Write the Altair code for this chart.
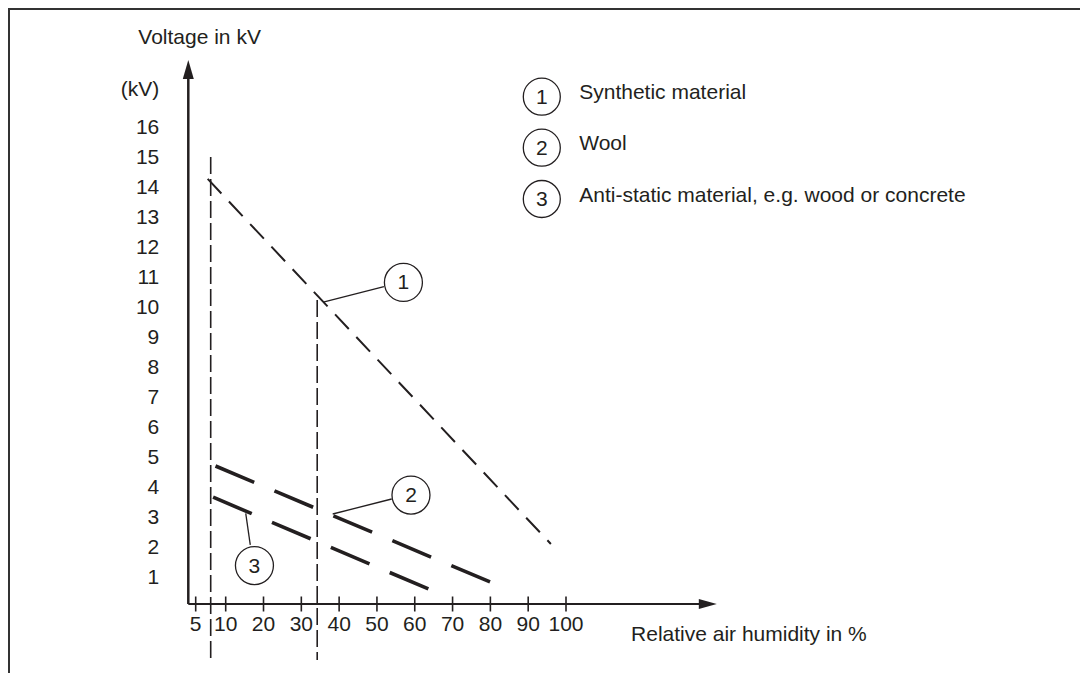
import altair as alt
import pandas as pd

# ---------------- data ----------------
humidity_ticks = [5, 10, 20, 30, 40, 50, 60, 70, 80, 90, 100]
voltage_ticks = list(range(1, 17))

series_ids = ["1", "2", "3"]
series_names = ["Synthetic material", "Wool", "Anti-static material, e.g. wood or concrete"]
start_humidity = [7.0, 8.3, 7.9]
start_kv = [14.17, 4.6, 3.56]
end_humidity = [96.0, 80.0, 64.0]
end_kv = [2.0, 0.73, 0.48]

marker_humidity = [7.5, 34.2]
marker_top_kv = [14.9, 10.13]
marker_bottom_kv = [-1.87, -1.87]

callout_humidity = [57.0, 59.0, 17.6]
callout_kv = [10.72, 3.63, 1.28]
leader_from_humidity = [51.85, 53.9, 16.5]
leader_from_kv = [10.58, 3.5, 1.97]
leader_to_humidity = [35.8, 38.3, 15.3]
leader_to_kv = [10.06, 3.0, 3.02]

legend_circle_humidity = [93.6, 93.6, 93.6]
legend_circle_kv = [16.91, 15.21, 13.5]
legend_text_humidity = [103.5, 103.5, 103.5]
legend_text_kv = [17.02, 15.32, 13.61]

# ---------------- styling ----------------
INK = "#231f20"
FONT = "Liberation Sans"
FS = 21

xs = alt.Scale(domain=[0, 5, 10, 100], range=[180.3, 187.7, 217.7, 558])
ys = alt.Scale(domain=[0, 16], range=[596, 116])


def X(f):
    return alt.X(f, type="quantitative", scale=xs, axis=None)


def Y(f):
    return alt.Y(f, type="quantitative", scale=ys, axis=None)


layers = []

# frame (left and top edges)
frame_df = pd.DataFrame({"a": [0]})
layers.append(alt.Chart(frame_df).mark_rule(color="#333", strokeWidth=2).encode(
    x=alt.value(1), y=alt.value(0), y2=alt.value(665)))
layers.append(alt.Chart(frame_df).mark_rule(color="#333", strokeWidth=2).encode(
    x=alt.value(0), x2=alt.value(1072), y=alt.value(1)))

# axes lines
axis_df = pd.DataFrame({"h0": [0], "h1": [136], "v0": [0], "v1": [17.5],
                        "harrow": [137.5], "varrow": [17.82]})
layers.append(alt.Chart(axis_df).mark_rule(color=INK, strokeWidth=2).encode(
    x=X("h0"), x2="h1", y=Y("v0")))
layers.append(alt.Chart(axis_df).mark_rule(color=INK, strokeWidth=2.5).encode(
    x=X("h0"), y=Y("v0"), y2="v1"))
layers.append(alt.Chart(axis_df).mark_point(
    shape="M-1,-0.55L1,0L-1,0.55Z", filled=True, color=INK, opacity=1, size=324).encode(
    x=X("harrow"), y=Y("v0")))
layers.append(alt.Chart(axis_df).mark_point(
    shape="M-0.58,1L0,-1L0.58,1Z", filled=True, color=INK, opacity=1, size=361).encode(
    x=X("h0"), y=Y("varrow")))

# x ticks and labels
xt_df = pd.DataFrame({"h": humidity_ticks, "v": [0] * len(humidity_ticks),
                      "lab": [str(t) for t in humidity_ticks]})
layers.append(alt.Chart(xt_df).mark_tick(orient="vertical", size=15, thickness=1.6, color=INK,
                                         opacity=1).encode(x=X("h"), y=Y("v")))
layers.append(alt.Chart(xt_df).mark_text(font=FONT, fontSize=FS, color=INK, dy=21,
                                         baseline="middle", align="center").encode(
    x=X("h"), y=Y("v"), text="lab"))

# y labels
yt_df = pd.DataFrame({"h": [0] * len(voltage_ticks), "v": voltage_ticks,
                      "lab": [str(t) for t in voltage_ticks]})
layers.append(alt.Chart(yt_df).mark_text(font=FONT, fontSize=FS, color=INK, dx=-29, dy=4,
                                         baseline="middle", align="right").encode(
    x=X("h"), y=Y("v"), text="lab"))

# axis titles
titles_df = pd.DataFrame({
    "h": [0, 0, 117.2],
    "v": [17.13, 18.87, -1.03],
    "lab": ["(kV)", "Voltage in kV", "Relative air humidity in %"],
    "dx": [-29, -50, 0],
})
layers.append(alt.Chart(titles_df.iloc[[0]]).mark_text(font=FONT, fontSize=FS, color=INK, dx=-29,
                                                        baseline="middle", align="right").encode(
    x=X("h"), y=Y("v"), text="lab"))
layers.append(alt.Chart(titles_df.iloc[[1]]).mark_text(font=FONT, fontSize=FS, color=INK, dx=-50,
                                                        baseline="middle", align="left").encode(
    x=X("h"), y=Y("v"), text="lab"))
layers.append(alt.Chart(titles_df.iloc[[2]]).mark_text(font=FONT, fontSize=FS, color=INK,
                                                        baseline="middle", align="left").encode(
    x=X("h"), y=Y("v"), text="lab"))

# vertical dashed marker lines
mk_df = pd.DataFrame({"h": marker_humidity, "top": marker_top_kv, "bot": marker_bottom_kv})
layers.append(alt.Chart(mk_df).mark_rule(color=INK, strokeWidth=1.6, strokeDash=[17, 5]).encode(
    x=X("h"), y=Y("top"), y2="bot"))

# series lines
line_styles = [
    dict(strokeWidth=2.0, strokeDash=[20, 11]),
    dict(strokeWidth=3.6, strokeDash=[42, 22]),
    dict(strokeWidth=3.6, strokeDash=[42, 22]),
]
for i, sid in enumerate(series_ids):
    df = pd.DataFrame({"h": [start_humidity[i], end_humidity[i]],
                       "v": [start_kv[i], end_kv[i]],
                       "series": [series_names[i]] * 2})
    layers.append(alt.Chart(df).mark_line(color=INK, strokeCap="butt", **line_styles[i]).encode(
        x=X("h"), y=Y("v")))

# callouts
co_df = pd.DataFrame({"id": series_ids, "h": callout_humidity, "v": callout_kv,
                      "h1": leader_from_humidity, "v1": leader_from_kv,
                      "h2": leader_to_humidity, "v2": leader_to_kv})
layers.append(alt.Chart(co_df).mark_rule(color=INK, strokeWidth=1.3).encode(
    x=X("h1"), y=Y("v1"), x2="h2", y2="v2"))
layers.append(alt.Chart(co_df).mark_point(shape="circle", filled=False, color=INK, opacity=1,
                                          strokeWidth=1.3, size=1444).encode(
    x=X("h"), y=Y("v")))
layers.append(alt.Chart(co_df).mark_text(font=FONT, fontSize=FS, color=INK, baseline="middle",
                                         align="center", dy=1).encode(
    x=X("h"), y=Y("v"), text="id"))

# legend
lg_df = pd.DataFrame({"id": series_ids, "name": series_names,
                      "hc": legend_circle_humidity, "vc": legend_circle_kv,
                      "ht": legend_text_humidity, "vt": legend_text_kv})
layers.append(alt.Chart(lg_df).mark_point(shape="circle", filled=False, color=INK, opacity=1,
                                          strokeWidth=1.3, size=1369).encode(
    x=X("hc"), y=Y("vc")))
layers.append(alt.Chart(lg_df).mark_text(font=FONT, fontSize=FS, color=INK, baseline="middle",
                                         align="center", dy=1).encode(
    x=X("hc"), y=Y("vc"), text="id"))
layers.append(alt.Chart(lg_df).mark_text(font=FONT, fontSize=FS, color=INK, baseline="middle",
                                         align="left").encode(
    x=X("ht"), y=Y("vt"), text="name"))

chart = alt.layer(*layers).properties(
    width=1072, height=665, autosize=alt.AutoSizeParams(type="none"), padding=0,
    background="white",
).configure_view(stroke=None)

chart.save("out.html", embed_options={"renderer": "svg", "actions": False})
